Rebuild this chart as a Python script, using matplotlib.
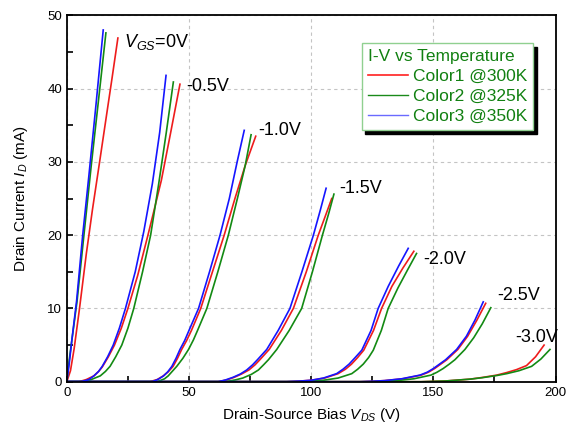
import matplotlib
matplotlib.use("Agg")
import matplotlib.pyplot as plt
from matplotlib.ticker import MultipleLocator

plt.rcParams["font.family"] = "Liberation Sans"
plt.rcParams["mathtext.fontset"] = "custom"
plt.rcParams["mathtext.rm"] = "Liberation Sans"
plt.rcParams["mathtext.it"] = "Liberation Sans:italic"

# gate biases (one curve group each)
vgs_labels = [r"$V_{GS}$=0V", "-0.5V", "-1.0V", "-1.5V", "-2.0V", "-2.5V", "-3.0V"]
label_pos_v = [23.5, 49.0, 78.5, 111.5, 146.0, 176.0, 183.5]
label_pos_i = [46.3, 40.3, 34.3, 26.4, 16.7, 11.8, 6.0]

# 300 K (red)
vds_300 = [
    [0, 1.5, 3, 5.2, 8.0, 10.5, 13.2, 16, 18.5, 20.9],
    [0, 5, 8, 11.1, 13, 14.5, 17, 19.5, 22.3, 25, 29, 33.2, 36, 38.7, 42.5, 46.3],
    [0, 34, 37, 39.5, 41.5, 43.5, 45.3, 47, 49, 51, 54.8, 59.6, 64.4, 68.8, 73, 77.3],
    [0, 62, 65.5, 68.5, 71.5, 74.5, 77, 79, 82.8, 87.8, 92.7, 98, 102.9, 106, 108.4],
    [0, 90, 95, 100, 105.5, 111, 114, 116.5, 119, 121.5, 125.5, 128.8, 133, 137.5, 142],
    [0, 120, 125, 130, 137.5, 145, 148, 150.5, 153, 155.5, 160, 164, 167.8, 171.4],
    [0, 145, 155, 165, 170, 175.9, 180, 184, 188.1, 191.8, 195.3],
]
id_300 = [
    [0, 1.5, 4.5, 10, 17.5, 23.5, 29.5, 35.8, 41.4, 46.9],
    [0, 0, 0.3, 0.8, 1.4, 2, 3.4, 5, 7.3, 10, 14.5, 20, 23.8, 27.5, 34, 40.6],
    [0, 0, 0.3, 0.8, 1.35, 2.1, 3.2, 4.4, 5.6, 7, 10, 15, 20, 25, 29.5, 33.5],
    [0, 0, 0.25, 0.6, 1.05, 1.6, 2.3, 3, 4.4, 7, 10, 15, 20, 22.8, 25.0],
    [0, 0, 0.08, 0.2, 0.5, 1.1, 1.7, 2.4, 3.3, 4.3, 7, 10, 13, 15.5, 17.8],
    [0, 0, 0.06, 0.15, 0.4, 0.9, 1.3, 1.8, 2.4, 3, 4.4, 6.2, 8.4, 10.7],
    [0, 0, 0.1, 0.35, 0.58, 0.9, 1.25, 1.65, 2.2, 3.4, 5.0],
]

# 325 K (green)
vds_325 = [
    [0, 1, 2.2, 4.2, 7, 10, 13, 16.0],
    [0, 7, 10, 13.7, 15.8, 17.7, 20, 22.5, 25, 27.4, 31, 34.3, 37.6, 40.7, 43.6],
    [0, 37, 40, 41.5, 45, 47.5, 49.8, 51.8, 53.5, 57.3, 61.8, 66.1, 69.8, 73.0, 75.4],
    [0, 65, 69, 72, 75.5, 78.4, 80.5, 82.5, 85.9, 91, 96.1, 100.5, 104.6, 107.2, 109.3],
    [0, 95, 100, 105, 111, 116.6, 119, 121.3, 123.5, 125.4, 128.7, 131.5, 135.5, 139.5, 143.1],
    [0, 125, 130, 135, 142, 149, 151.5, 154, 156.5, 158.8, 162.9, 166.5, 170, 173.5],
    [0, 145, 155, 165, 170, 176, 180, 185, 190.2, 194, 197.7],
]
id_325 = [
    [0, 3, 6, 11, 20, 29.5, 38.5, 47.6],
    [0, 0, 0.3, 0.8, 1.4, 2.1, 3.4, 5, 7.3, 10, 15, 20, 27, 34, 40.9],
    [0, 0, 0.4, 0.8, 2.1, 3.2, 4.4, 5.7, 7, 10, 15, 20, 25, 29.5, 33.7],
    [0, 0, 0.25, 0.5, 1.0, 1.6, 2.3, 3, 4.4, 7, 10, 15, 20, 23, 25.6],
    [0, 0, 0.08, 0.2, 0.5, 1.1, 1.7, 2.4, 3.3, 4.3, 7, 10, 12.8, 15.3, 17.5],
    [0, 0, 0.06, 0.15, 0.4, 0.9, 1.3, 1.8, 2.4, 3, 4.4, 6, 7.9, 10.1],
    [0, 0, 0.1, 0.35, 0.55, 0.85, 1.1, 1.5, 2.1, 3.1, 4.4],
]

# 350 K (blue), no -3.0V curve visible
vds_350 = [
    [0, 1, 2, 4, 6.5, 9, 12, 14.9],
    [0, 6, 9, 11.1, 13, 14.5, 16.7, 19, 21.5, 24, 28, 31.5, 35, 38, 40.6],
    [0, 35, 37.5, 39.6, 41.3, 43, 44.7, 46.3, 48.2, 50, 53.9, 58.4, 62.7, 66.5, 69.7, 72.6],
    [0, 62, 65, 68, 71, 73.6, 76, 78, 81.8, 86.5, 91.3, 96.2, 100.9, 103.8, 106.1],
    [0, 90, 95, 100, 105, 110.4, 113, 115.5, 118, 120.7, 124.5, 127.4, 131.5, 135.8, 139.7],
    [0, 120, 125, 130, 137, 144.5, 147.5, 150, 152.5, 155, 159.5, 163.5, 167, 170.4],
]
id_350 = [
    [0, 2.5, 5.5, 11, 20, 28, 38, 48.0],
    [0, 0, 0.3, 0.8, 1.4, 2.1, 3.4, 5, 7.3, 10, 15, 20.5, 27, 34, 41.8],
    [0, 0, 0.35, 0.8, 1.35, 2.1, 3.2, 4.4, 5.6, 7, 10, 15, 20, 25, 30, 34.3],
    [0, 0, 0.25, 0.6, 1.05, 1.6, 2.3, 3, 4.4, 7, 10, 15, 20, 23.5, 26.4],
    [0, 0, 0.08, 0.2, 0.5, 1.1, 1.7, 2.4, 3.3, 4.3, 7, 10, 13, 15.8, 18.2],
    [0, 0, 0.06, 0.15, 0.4, 0.9, 1.3, 1.8, 2.4, 3, 4.4, 6.2, 8.4, 10.9],
]

legend_labels = ["Color1 @300K", "Color2 @325K", "Color3 @350K"]
legend_title = "I-V vs Temperature"

fig = plt.figure(figsize=(5.71, 4.37), dpi=100)
ax = fig.add_axes([0.117, 0.1265, 0.856, 0.8385])

red, green, blue = "#ee1c1c", "#138a13", "#1515ff"
for v, i in zip(vds_300, id_300):
    ax.plot(v, i, color=red, lw=1.2)
for v, i in zip(vds_325, id_325):
    ax.plot(v, i, color=green, lw=1.2)
for v, i in zip(vds_350, id_350):
    ax.plot(v, i, color=blue, lw=1.2)

for lab, x, y in zip(vgs_labels, label_pos_v, label_pos_i):
    ax.text(x, y, lab, fontsize=13, va="center", ha="left")

ax.set_xlim(0, 200)
ax.set_ylim(0, 50)
ax.xaxis.set_major_locator(MultipleLocator(50))
ax.xaxis.set_minor_locator(MultipleLocator(25))
ax.yaxis.set_major_locator(MultipleLocator(10))
ax.yaxis.set_minor_locator(MultipleLocator(5))
ax.tick_params(which="both", direction="in", length=4, width=1.2, labelsize=9.5)
ax.grid(True, which="major", ls=(0, (3, 3)), color="#c4c4c4", lw=0.8)
for s in ax.spines.values():
    s.set_linewidth(1.3)

ax.set_xlabel(r"Drain-Source Bias $V_{DS}$ (V)", fontsize=11, labelpad=5)
ax.set_ylabel(r"Drain Current $I_D$ (mA)", fontsize=11, labelpad=12)

# legend handles
h1, = ax.plot([], [], color="#ff2020", lw=1.2)
h2, = ax.plot([], [], color="#1a8a1a", lw=1.0)
h3, = ax.plot([], [], color="#6a6aff", lw=1.0)
leg_kw = dict(title=legend_title, loc="upper right", bbox_transform=ax.transAxes,
              borderaxespad=0, fontsize=12.5, title_fontsize=12.5,
              labelspacing=0.28, handlelength=2.3, handletextpad=0.3,
              borderpad=0.35, fancybox=False, framealpha=1, alignment="left")

# black copy shifted 4 px right/down acts as the drop shadow;
# its texts and handles are hidden, only the frame is drawn
sh = fig.legend([h1, h2, h3], legend_labels, bbox_to_anchor=(0.962, 0.913),
                facecolor="black", edgecolor="black", **leg_kw)
sh.set_zorder(9)
sh.get_title().set_visible(False)
for t in sh.get_texts():
    t.set_visible(False)
for ln in sh.get_lines():
    ln.set_visible(False)

leg = fig.legend([h1, h2, h3], legend_labels, bbox_to_anchor=(0.954, 0.924),
                 facecolor="white", edgecolor="#90d090", **leg_kw)
leg.set_zorder(10)
leg.get_title().set_color("#118011")
for t in leg.get_texts():
    t.set_color("#118011")

fig.savefig("out.png", dpi=100)
